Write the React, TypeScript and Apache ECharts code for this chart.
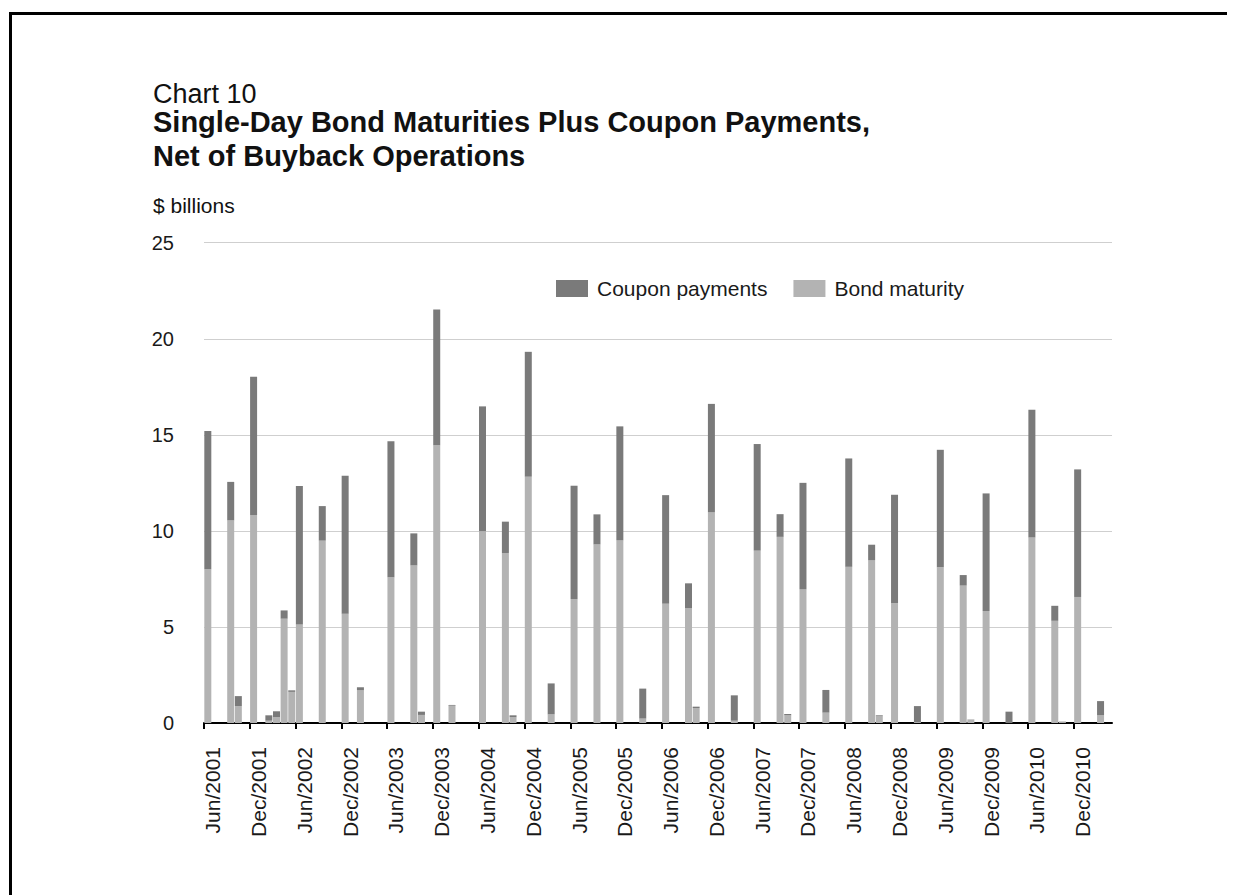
import React, { useEffect, useRef } from "react";
import * as echarts from "echarts";

const FONT = '"Liberation Sans", Arial, Helvetica, sans-serif';

const MONTH_NAMES = ["Jan", "Feb", "Mar", "Apr", "May", "Jun", "Jul", "Aug", "Sep", "Oct", "Nov", "Dec"];
const START_YEAR = 2001;
const START_MONTH_INDEX = 5; // Jun
const MONTH_COUNT = 119; // Jun/2001 .. Apr/2011
const LABEL_EVERY = 6; // Jun and Dec

const eventMonths = [
  "Jun/2001", "Sep/2001", "Oct/2001", "Dec/2001", "Feb/2002", "Mar/2002", "Apr/2002", "May/2002",
  "Jun/2002", "Sep/2002", "Dec/2002", "Feb/2003", "Jun/2003", "Sep/2003", "Oct/2003", "Dec/2003",
  "Feb/2004", "Jun/2004", "Sep/2004", "Oct/2004", "Dec/2004", "Mar/2005", "Jun/2005", "Sep/2005",
  "Dec/2005", "Mar/2006", "Jun/2006", "Sep/2006", "Oct/2006", "Dec/2006", "Mar/2007", "Jun/2007",
  "Sep/2007", "Oct/2007", "Dec/2007", "Mar/2008", "Jun/2008", "Sep/2008", "Oct/2008", "Dec/2008",
  "Mar/2009", "Jun/2009", "Sep/2009", "Oct/2009", "Dec/2009", "Mar/2010", "Jun/2010", "Sep/2010",
  "Oct/2010", "Dec/2010", "Mar/2011",
];

const bondMaturity = [
  8.0, 10.55, 0.88, 10.82, 0.12, 0.3, 5.43, 1.62,
  5.13, 9.49, 5.69, 1.7, 7.58, 8.2, 0.42, 14.46,
  0.9, 9.99, 8.85, 0.3, 12.82, 0.45, 6.45, 9.3,
  9.52, 0.23, 6.21, 5.97, 0.78, 10.96, 0.12, 8.97,
  9.69, 0.4, 6.97, 0.54, 8.13, 8.48, 0.35, 6.24,
  0.05, 8.1, 7.15, 0.19, 5.83, 0, 9.66, 5.32,
  0.05, 6.56, 0.4,
];

const couponPayments = [
  7.2, 2.0, 0.52, 7.2, 0.28, 0.31, 0.43, 0.08,
  7.2, 1.8, 7.18, 0.16, 7.09, 1.67, 0.17, 7.06,
  0.04, 6.49, 1.63, 0.1, 6.5, 1.61, 5.9, 1.56,
  5.92, 1.56, 5.65, 1.3, 0.07, 5.65, 1.32, 5.55,
  1.18, 0.07, 5.53, 1.18, 5.64, 0.8, 0.05, 5.64,
  0.83, 6.12, 0.55, 0, 6.12, 0.59, 6.64, 0.78,
  0.02, 6.64, 0.74,
];

const Y_MIN = 0;
const Y_MAX = 25;
const Y_STEP = 5;

const CHART_LABEL = "Chart 10";
const TITLE_LINES = [
  "Single-Day Bond Maturities Plus Coupon Payments,",
  "Net of Buyback Operations",
];
const UNIT_LABEL = "$ billions";

function buildCategories(): string[] {
  const out: string[] = [];
  for (let k = 0; k < MONTH_COUNT; k++) {
    const m = START_MONTH_INDEX + k;
    out.push(MONTH_NAMES[m % 12] + "/" + (START_YEAR + Math.floor(m / 12)));
  }
  return out;
}

export default function App() {
  const ref = useRef<HTMLDivElement>(null);

  useEffect(() => {
    if (!ref.current) return;
    const chart = echarts.init(ref.current, null, { renderer: "svg" });
    const categories = buildCategories();
    const pick = (arr: number[]) =>
      categories.map((c) => {
        const i = eventMonths.indexOf(c);
        return i >= 0 ? arr[i] : null;
      });
    const tickIndexes = categories.map((_, i) => i).filter((i) => i % LABEL_EVERY === 0);

    const textColor = "#1a1a1a";

    chart.setOption({
      animation: false,
      backgroundColor: "#ffffff",
      textStyle: { fontFamily: FONT },
      grid: { left: 196, right: 123, top: 234.7, bottom: 172, containLabel: false },
      legend: {
        data: ["Coupon payments", "Bond maturity"],
        left: 548,
        top: 270,
        padding: 0,
        itemWidth: 32,
        itemHeight: 17,
        itemGap: 26,
        icon: "rect",
        textStyle: { fontSize: 21, color: textColor, fontFamily: FONT, padding: [0, 0, 0, 4] },
      },
      xAxis: [
        {
          type: "category",
          data: categories,
          boundaryGap: true,
          axisLine: { lineStyle: { color: "#000", width: 2 } },
          axisTick: { show: false },
          axisLabel: {
            interval: LABEL_EVERY - 1,
            rotate: 90,
            fontSize: 21,
            color: textColor,
            fontFamily: FONT,
            margin: 24,
            verticalAlign: "top",
            lineHeight: 10,
          },
          splitLine: { show: false },
        },
        {
          type: "value",
          position: "bottom",
          min: 0,
          max: MONTH_COUNT,
          axisLine: { show: false },
          axisLabel: { show: false },
          splitLine: { show: false },
          axisTick: {
            show: true,
            length: 6,
            customValues: tickIndexes,
            lineStyle: { color: "#000", width: 2 },
          },
        },
      ],
      yAxis: {
        type: "value",
        min: Y_MIN,
        max: Y_MAX,
        interval: Y_STEP,
        axisLine: { show: false },
        axisTick: { show: false },
        splitLine: { lineStyle: { color: "#cfcfcf", width: 1 } },
        axisLabel: { fontSize: 20, color: textColor, fontFamily: FONT, margin: 30 },
      },
      series: [
        {
          name: "Bond maturity",
          type: "bar",
          stack: "total",
          xAxisIndex: 0,
          barWidth: 7,
          itemStyle: { color: "#b3b3b3" },
          data: pick(bondMaturity),
        },
        {
          name: "Coupon payments",
          type: "bar",
          stack: "total",
          xAxisIndex: 0,
          barWidth: 7,
          itemStyle: { color: "#7a7a7a" },
          data: pick(couponPayments),
        },
      ],
      graphic: [
        { type: "rect", left: 1, top: 4, shape: { x: 0, y: 0, width: 3, height: 900 }, style: { fill: "#000" } },
        { type: "rect", left: 1, top: 4, shape: { x: 0, y: 0, width: 1300, height: 3 }, style: { fill: "#000" } },
        {
          type: "text",
          x: 145,
          y: 85.5,
          style: { text: CHART_LABEL, fontSize: 27, fontFamily: FONT, fill: "#111", verticalAlign: "middle" },
        },
        {
          type: "text",
          x: 145,
          y: 114.2,
          style: { text: TITLE_LINES[0], fontSize: 29, fontWeight: "bold", fontFamily: FONT, fill: "#111", verticalAlign: "middle" },
        },
        {
          type: "text",
          x: 145,
          y: 147.5,
          style: { text: TITLE_LINES[1], fontSize: 29, fontWeight: "bold", fontFamily: FONT, fill: "#111", verticalAlign: "middle" },
        },
        {
          type: "text",
          x: 145,
          y: 197.5,
          style: { text: UNIT_LABEL, fontSize: 21, fontFamily: FONT, fill: "#111", verticalAlign: "middle" },
        },
      ],
    });

    return () => chart.dispose();
  }, []);

  return <div ref={ref} style={{ width: 1227, height: 887 }} />;
}
